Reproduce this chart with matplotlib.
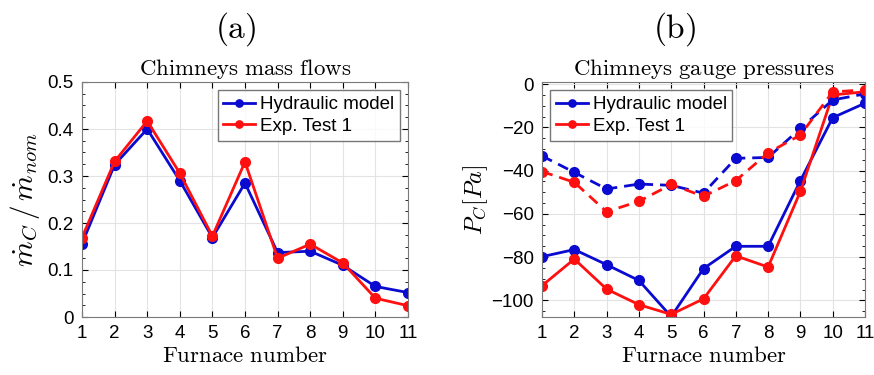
import matplotlib
matplotlib.use("Agg")
import matplotlib.pyplot as plt
from matplotlib.ticker import AutoMinorLocator

plt.rcParams['mathtext.fontset'] = 'cm'
plt.rcParams['font.family'] = ['Liberation Sans', 'DejaVu Sans']

furnace = [1, 2, 3, 4, 5, 6, 7, 8, 9, 10, 11]

# (a) chimneys mass flows, m_C / m_nom
flow_model = [0.156, 0.324, 0.400, 0.290, 0.169, 0.285, 0.137, 0.140, 0.110, 0.065, 0.052]
flow_test = [0.169, 0.331, 0.417, 0.306, 0.172, 0.330, 0.125, 0.155, 0.115, 0.040, 0.024]

# (b) chimneys gauge pressures [Pa], solid and dashed sets
p_model = [-79.8, -76.5, -83.5, -90.8, -107.5, -85.3, -75.0, -75.0, -44.6, -15.5, -8.8]
p_test = [-93.2, -80.9, -94.8, -102.0, -106.5, -99.3, -79.4, -84.6, -49.6, -5.0, -3.5]
p_model_dash = [-33.2, -40.8, -48.5, -46.2, -46.8, -50.4, -34.3, -33.9, -20.5, -7.3, -4.5]
p_test_dash = [-40.4, -45.4, -59.0, -54.2, -46.4, -51.9, -44.6, -31.8, -23.5, -3.6, -2.6]

blue = '#0a0ad0'
red = '#ff1010'

fig = plt.figure(figsize=(8.74, 3.75), dpi=100)
ax1 = fig.add_axes([82/874, 1-317/375, 326/874, 235/375])
ax2 = fig.add_axes([542/874, 1-317/375, 323/874, 235/375])


def style(ax):
    ax.grid(True, color='#e3e3e3', linewidth=0.8)
    ax.set_axisbelow(True)
    ax.set_xlim(1, 11)
    ax.set_xticks(furnace)
    ax.tick_params(direction='in', labelsize=13.5, length=4, pad=6, top=True, right=True)
    ax.tick_params(which='minor', direction='in', length=2, left=True, right=True)
    ax.yaxis.set_minor_locator(AutoMinorLocator(4))
    for s in ax.spines.values():
        s.set_color('#7a7a7a')
        s.set_linewidth(0.8)
    ax.set_xlabel(r'$\mathrm{Furnace\ number}$', fontsize=16.5, labelpad=1)


kw = dict(linewidth=2, marker='o', markersize=7)
leg_kw = dict(fontsize=13.5, frameon=True, fancybox=False, edgecolor='#555555',
              handlelength=1.7, handletextpad=0.25, borderpad=0.3,
              labelspacing=0.25, borderaxespad=0.45, markerscale=0.75)

ax1.plot(furnace, flow_model, color=blue, label='Hydraulic model', **kw)
ax1.plot(furnace, flow_test, color=red, label='Exp. Test 1', **kw)
ax1.set_ylim(0, 0.5)
ax1.set_yticks([0, 0.1, 0.2, 0.3, 0.4, 0.5])
ax1.set_yticklabels(['0', '0.1', '0.2', '0.3', '0.4', '0.5'])
style(ax1)
ax1.set_ylabel(r'$\dot{m}_C\,/\,\dot{m}_{nom}$', fontsize=21, labelpad=4)
ax1.set_title(r'$\mathrm{Chimneys\ mass\ flows}$', fontsize=16.5, pad=5)
ax1.legend(loc='upper right', **leg_kw)

ax2.plot(furnace, p_model, color=blue, label='Hydraulic model', **kw)
ax2.plot(furnace, p_test, color=red, label='Exp. Test 1', **kw)
ax2.plot(furnace, p_model_dash, color=blue, linestyle=(0, (4, 2.5)), **kw)
ax2.plot(furnace, p_test_dash, color=red, linestyle=(0, (4, 2.5)), **kw)
ax2.set_ylim(-107.7, 1)
ax2.set_yticks([-100, -80, -60, -40, -20, 0])
style(ax2)
ax2.set_ylabel(r'$P_C[Pa]$', fontsize=17.5, labelpad=1)
ax2.set_title(r'$\mathrm{Chimneys\ gauge\ pressures}$', fontsize=16.5, pad=5)
ax2.legend(loc='upper left', **leg_kw)

fig.text(236/874, 1-29/375, r'$\mathrm{(a)}$', fontsize=24, ha='center', va='center')
fig.text(675/874, 1-29/375, r'$\mathrm{(b)}$', fontsize=24, ha='center', va='center')

fig.savefig('out.png', dpi=100)
